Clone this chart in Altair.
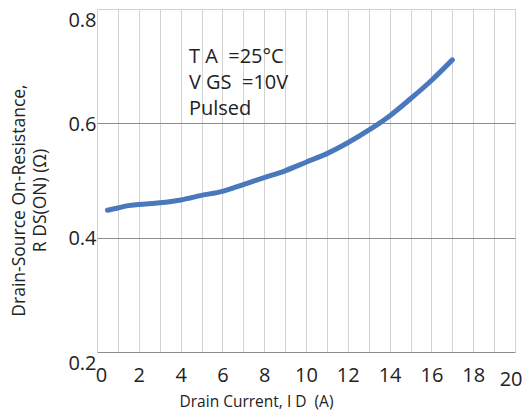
import altair as alt
import pandas as pd

# Data
drain_current = [0.5, 1.0, 1.5, 2, 3, 4, 5, 6, 7, 8, 9, 10, 11, 12, 13, 14, 15, 16, 17]
r_ds_on = [0.448, 0.452, 0.456, 0.458, 0.461, 0.466, 0.474, 0.481, 0.493, 0.505,
           0.517, 0.532, 0.547, 0.566, 0.588, 0.613, 0.643, 0.675, 0.711]

x_ticks = list(range(0, 21))
y_ticks = [0.2, 0.4, 0.6, 0.8]

note_text = ["T A\u00a0 =25°C\nV GS\u00a0 =10V\nPulsed"]
note_x = [4.4]
note_y = [0.705]

df = pd.DataFrame({"id": drain_current, "r": r_ds_on})
notes = pd.DataFrame({"t": note_text, "x": note_x, "y": note_y})

FONT = "Open Sans"

x_scale = alt.Scale(domain=[0, 20], nice=False, zero=False)
y_scale = alt.Scale(domain=[0.2, 0.8], nice=False, zero=False)

x_axis = alt.Axis(
    values=x_ticks,
    labelExpr="datum.value % 2 == 0 ? datum.label : ''",
    title="Drain Current, I D \u00a0(A)",
    titleFont=FONT, titleFontSize=15.5, titleFontWeight="normal", titleColor="#222",
    titleX=159, titleY=49, titleAlign="center", titleBaseline="middle",
    labelFont=FONT, labelFontSize=20, labelColor="#222",
    labelPadding={"condition": {"test": "datum.value == 20", "value": 17}, "value": 13},
    labelAlign={"condition": {"test": "datum.value == 20", "value": "right"}, "value": "center"},
    labelOffset={"condition": [
        {"test": "datum.value == 0", "value": 4},
        {"test": "datum.value == 20", "value": 7},
    ], "value": 0},
    labelFlush=False,
    ticks=False, tickSize=0, domain=False,
    grid=True, gridColor="#d2d2d2", gridWidth=1,
)

y_axis = alt.Axis(
    values=y_ticks,
    format=".1f",
    title=["Drain-Source On-Resistance,", "R DS(ON) (Ω)"],
    titleFont=FONT, titleFontSize=17.5, titleFontWeight="normal", titleColor="#222",
    titleLineHeight=21, titleX=-87, titleY=191, titleAlign="center",
    titleBaseline="top", titleAngle=270,
    labelFont=FONT, labelFontSize=20, labelColor="#222", labelPadding=1,
    labelBaseline="middle",
    labelOffset={"condition": {"test": "datum.value > 0.79 || datum.value < 0.21", "value": 11.5}, "value": 1},
    labelFlush=False,
    ticks=False, tickSize=0, domain=False,
    grid=True,
    gridColor={"condition": {"test": "datum.value > 0.79", "value": "#d2d2d2"}, "value": "#8c8c8c"},
    gridWidth=1,
)

line = alt.Chart(df).mark_line(
    color="#4a78bd", strokeWidth=5, interpolate="monotone", strokeCap="round"
).encode(
    x=alt.X("id:Q", scale=x_scale, axis=x_axis),
    y=alt.Y("r:Q", scale=y_scale, axis=y_axis),
)

text = alt.Chart(notes).mark_text(
    align="left", baseline="alphabetic", font=FONT, fontSize=20, color="#222",
    lineBreak="\n", lineHeight=26,
).encode(
    x=alt.X("x:Q", scale=x_scale, axis=x_axis),
    y=alt.Y("y:Q", scale=y_scale, axis=y_axis),
    text="t:N",
)

chart = alt.layer(line, text).properties(
    width=418,
    height=343,
    padding={"left": 2, "top": 1, "right": 0, "bottom": 1},
    background="white",
).configure_view(stroke=None)

chart.save("out.html", embed_options={"renderer": "svg", "actions": False})
